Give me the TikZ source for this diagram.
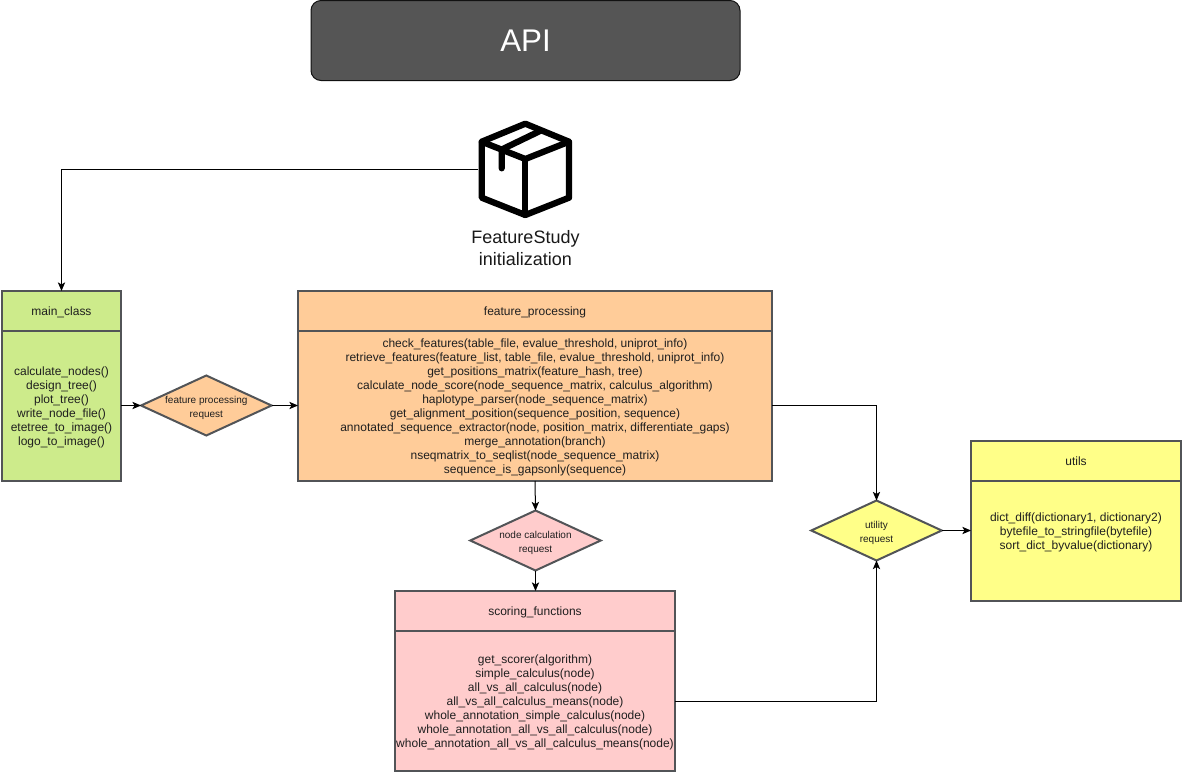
\documentclass[tikz,border=0pt]{standalone}
\usepackage{fontspec}
\setmainfont{Liberation Sans}
\usetikzlibrary{arrows.meta,shapes.geometric}
\definecolor{edgegray}{HTML}{525457}
\definecolor{apifill}{HTML}{555555}
\definecolor{apiedge}{HTML}{111111}
\definecolor{greenfill}{HTML}{CDEB8B}
\definecolor{orangefill}{HTML}{FFCC99}
\definecolor{pinkfill}{HTML}{FFCCCC}
\definecolor{yellowfill}{HTML}{FFFF88}
\newcommand\lowerline{\rule{0pt}{8.2pt}}
\newcommand\lowerdia{\rule{0pt}{8.6pt}}
\tikzset{
  sz/.style 2 args={minimum width=#1*0.75pt,minimum height=#2*0.75pt},
  box/.style={draw=edgegray,line width=1.5pt,rectangle,inner sep=0pt,outer sep=0pt,align=center,
    text=black!88,font=\fontsize{9}{10.5}\selectfont},
  decision/.style={diamond,draw=edgegray,line width=1.5pt,inner sep=-30pt,outer sep=0pt,align=center,
    shape aspect=2.18,text=black!88,font=\fontsize{7.5}{10.5}\selectfont,
    minimum width=130.5*0.75pt,minimum height=60*0.75pt},
  conn/.style={draw=black,line width=0.75pt,-{Stealth[length=6.5pt,width=5.5pt,inset=1.6pt]}},
  pkgline/.style={draw=black,line width=4.7pt,line join=round,line cap=round}
}
\begin{document}
\begin{tikzpicture}[x=0.75pt,y=-0.75pt]
\useasboundingbox (0,0) rectangle (1183,772);
% API
\node[sz={429}{80},draw=apiedge,line width=0.75pt,fill=apifill,rounded corners=7.5pt,outer sep=0pt,text=white,
  font=\fontsize{23.5}{27}\selectfont] (api) at (525.5,40.5) {API};
% package icon
\node[sz={94}{98},inner sep=0pt,outer sep=0pt] (pkg) at (525,169) {};
\draw[pkgline] (525.3,123.7) -- (569,141.7) -- (569,197.7) -- (525.3,215) -- (481.7,197.7) -- (481.7,141.7) -- cycle;
\draw[pkgline] (481.7,141.7) -- (525.3,159) -- (569,141.7);
\draw[pkgline] (525.3,159) -- (525.3,215);
\draw[pkgline] (501.7,168.3) -- (501.7,149.5) -- (540,131);
\node[inner sep=0pt,align=center,font=\fontsize{13.5}{16.5}\selectfont,text=black!90] (pkglabel) at (525.5,248) {FeatureStudy\\initialization};
% main_class
\node[box,fill=greenfill,sz={119}{40}] (mainh) at (61.5,311) {\lowerline main\_class};
\node[box,fill=greenfill,sz={119}{150}] (mainb) at (61.5,406) {\lowerline calculate\_nodes()\\design\_tree()\\plot\_tree()\\write\_node\_file()\\etetree\_to\_image()\\logo\_to\_image()};
% feature_processing
\node[box,fill=orangefill,sz={474}{40}] (feath) at (535,311) {\lowerline feature\_processing};
\node[box,fill=orangefill,sz={474}{150}] (featb) at (535,406) {\lowerline check\_features(table\_file, evalue\_threshold, uniprot\_info)\\
retrieve\_features(feature\_list, table\_file, evalue\_threshold, uniprot\_info)\\
get\_positions\_matrix(feature\_hash, tree)\\
calculate\_node\_score(node\_sequence\_matrix, calculus\_algorithm)\\
haplotype\_parser(node\_sequence\_matrix)\\
get\_alignment\_position(sequence\_position, sequence)\\
annotated\_sequence\_extractor(node, position\_matrix, differentiate\_gaps)\\
merge\_annotation(branch)\\
nseqmatrix\_to\_seqlist(node\_sequence\_matrix)\\
sequence\_is\_gapsonly(sequence)};
% scoring_functions
\node[box,fill=pinkfill,sz={280}{40}] (scoreh) at (535,611) {\lowerline scoring\_functions};
\node[box,fill=pinkfill,sz={280}{140}] (scoreb) at (535,701) {\lowerline get\_scorer(algorithm)\\
simple\_calculus(node)\\
all\_vs\_all\_calculus(node)\\
all\_vs\_all\_calculus\_means(node)\\
whole\_annotation\_simple\_calculus(node)\\
whole\_annotation\_all\_vs\_all\_calculus(node)\\
whole\_annotation\_all\_vs\_all\_calculus\_means(node)};
% utils
\node[box,fill=yellowfill,sz={210}{40}] (utilh) at (1076,461) {utils};
\node[box,fill=yellowfill,sz={210}{120}] (utilb) at (1076,541) {};
\node[box,draw=none] (utilt) at (1076,532) {dict\_diff(dictionary1, dictionary2)\\
bytefile\_to\_stringfile(bytefile)\\
sort\_dict\_byvalue(dictionary)};
% decisions
\node[decision,fill=orangefill] (dfeat) at (206.3,405.5) {\lowerdia feature processing\\request};
\node[decision,fill=pinkfill] (dnode) at (535.5,540.5) {\lowerdia node calculation\\request};
\node[decision,fill=yellowfill] (dutil) at (876.5,530.5) {\lowerdia utility\\request};
% connectors
\draw[conn] (pkg.west) -| (mainh.north);
\draw[conn] (mainb.east |- dfeat.west) -- (dfeat.west);
\draw[conn] (dfeat.east) -- (dfeat.east -| featb.west);
\draw[conn] (featb.east |- dfeat.east) -| (dutil.north);
\draw[conn] (featb.south) -- (dnode.north);
\draw[conn] (dnode.south) -- (scoreh.north -| dnode.south);
\draw[conn] (scoreb.east) -| (dutil.south);
\draw[conn] (dutil.east) -- (dutil.east -| utilb.west);
\end{tikzpicture}
\end{document}
